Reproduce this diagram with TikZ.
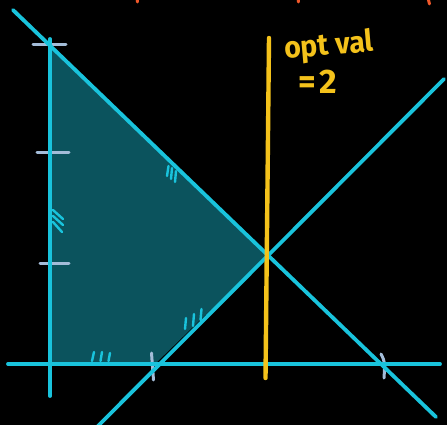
\documentclass[tikz,border=0pt]{standalone}
\usepackage{fontspec}
\setsansfont{Fira Sans}
\definecolor{linecyan}{HTML}{19C3DC}
\definecolor{regionteal}{HTML}{0B535D}
\definecolor{tickgray}{HTML}{A3BCD8}
\definecolor{optyellow}{HTML}{F4C21B}
\definecolor{edgeorange}{HTML}{F0582A}
\tikzset{
  axisline/.style={draw=linecyan,line width=3.8pt,line cap=round},
  hatchmark/.style={draw=linecyan,line width=2.4pt,line cap=round},
  tickmark/.style={draw=tickgray,line width=3pt,line cap=round},
  optlabel/.style={text=optyellow,font=\sffamily\bfseries,inner sep=0pt}
}
\begin{document}
\begin{tikzpicture}[x=1pt,y=-1pt]
\fill[black] (0,0) rectangle (447,425);
\useasboundingbox (0,0) rectangle (447,425);

% corners of the feasible region
\coordinate (top) at (50,47);
\coordinate (corner) at (267,255);
\coordinate (foot) at (155,364);
\coordinate (origin) at (50,364);
\fill[regionteal] (top) -- (corner) -- (foot) -- (origin) -- cycle;

% ticks
\draw[tickmark] (33,45) -- (66,45);
\draw[tickmark] (37,153) -- (69,153);
\draw[tickmark] (40,263) -- (69,263);
\draw[tickmark] (151.5,353) -- (153.5,380);
\draw[tickmark] (381,354) .. controls (385,362) .. (384,378);

% axes and constraint lines
\draw[axisline] (8,364) -- (440,364);
\draw[axisline] (50,39) -- (50,396);
\draw[axisline] (13,10) -- (436,417);
\draw[axisline] (97,427) -- (444,79);

% hatches on the edges
\draw[hatchmark] (53,210) -- (63,219) (53,216) -- (63,225) (53,222) -- (62,232);
\draw[hatchmark] (168.5,166) -- (167,176) (172,168) -- (171,179) (176,171) -- (175,182);
\draw[hatchmark] (186,318) -- (185,329) (194,314) -- (193,326) (201.5,309) -- (200.5,320);
\draw[hatchmark] (94,352) -- (92,361) (102,352) -- (100.5,361) (110,353) -- (108.5,361);

% objective
\draw[optyellow,line width=4.4pt,line cap=round] (269,38) -- (265.5,378);
\node[optlabel,font=\sffamily\bfseries\fontsize{30}{32}\selectfont,rotate=5,xscale=0.95] (optval) at (329,47) {opt val};
\node[optlabel,font=\sffamily\bfseries\fontsize{34}{36}\selectfont] (optnum) at (318,82) {=\kern3pt2};

% cut-off marks at the top edge
\draw[edgeorange,line width=3pt,line cap=round] (137,-2) -- (137.5,2);
\draw[edgeorange,line width=3pt,line cap=round] (298,-2) -- (298.5,2);
\draw[edgeorange,line width=3pt,line cap=round] (428,-2) -- (429.5,4);
\end{tikzpicture}
\end{document}
